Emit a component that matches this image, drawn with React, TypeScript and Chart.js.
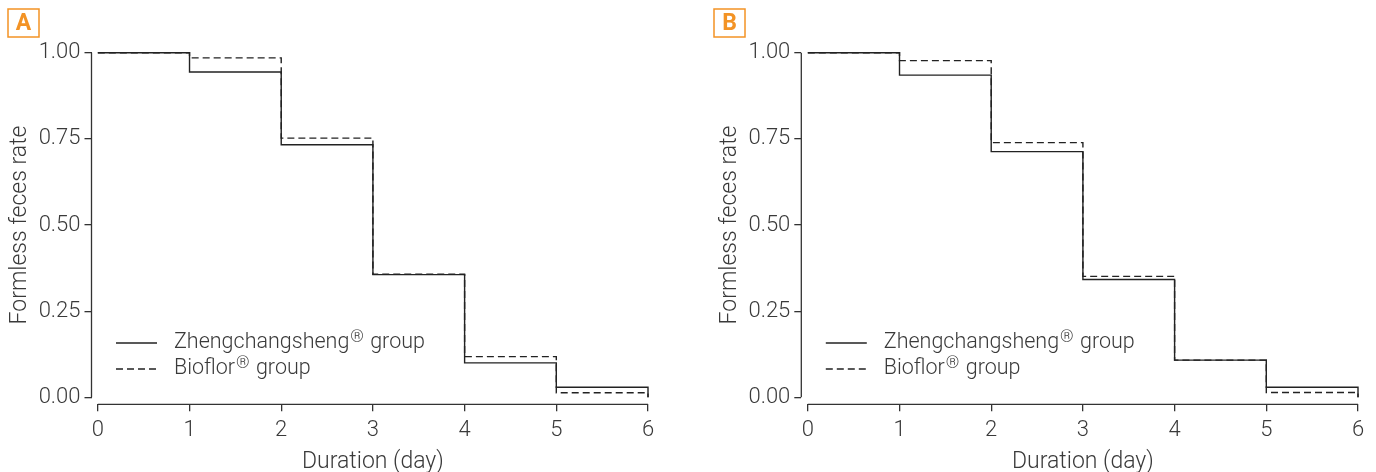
import React, { useEffect, useRef } from "react";
import { Chart, registerables } from "chart.js";

Chart.register(...registerables);

// ---------- data ----------
const days = [0, 1, 2, 3, 4, 5, 6];
const yTicks = [0, 0.25, 0.5, 0.75, 1];
const xTicks = [0, 1, 2, 3, 4, 5, 6];
const zhengA = [1, 0.944, 0.733, 0.356, 0.1, 0.029, 0];
const bioflorA = [1, 0.985, 0.752, 0.357, 0.118, 0.013, 0];
const zhengB = [1, 0.935, 0.713, 0.342, 0.108, 0.029, 0];
const bioflorB = [1, 0.977, 0.739, 0.351, 0.108, 0.014, 0];
const seriesLabels = ["Zhengchangsheng® group", "Bioflor® group"];
const panelLabels = ["A", "B"];
const xTitle = "Duration (day)";
const yTitle = "Formless feces rate";

// ---------- style ----------
const FONT = "Roboto, 'Liberation Sans', sans-serif";
const TEXT = "#3a3a3a";
const LINE = "#222222";
const ORANGE = "#F39325";
const W = 688;
const H = 472;

type PanelGeom = {
  axisX: number; // chart area left (y-axis line)
  rightPad: number;
  xMin: number;
  boxX: number;
};

const geoms: PanelGeom[] = [
  { axisX: 91.5, rightPad: 40, xMin: -0.069, boxX: 8 },
  { axisX: 113.3, rightPad: 18, xMin: -0.071, boxX: 26 },
];

const drawText = (ctx: CanvasRenderingContext2D, label: string, x: number, y: number) => {
  const parts = label.split("®");
  let cx = x;
  parts.forEach((p, i) => {
    ctx.font = `300 21.5px ${FONT}`;
    ctx.fillText(p, cx, y);
    cx += ctx.measureText(p).width;
    if (i < parts.length - 1) {
      ctx.font = `300 17px ${FONT}`;
      ctx.fillText("®", cx + 1, y - 6);
      cx += ctx.measureText("®").width + 2;
    }
  });
};

const customPlugin = {
  id: "custom",
  afterDraw(chart: any, _args: any, opts: any) {
    const ctx: CanvasRenderingContext2D = chart.ctx;
    const xs = chart.scales.x;
    const ys = chart.scales.y;
    const ca = chart.chartArea;
    ctx.save();
    // axis lines
    ctx.strokeStyle = "#333";
    ctx.lineWidth = 1.3;
    ctx.beginPath();
    ctx.moveTo(xs.getPixelForValue(xTicks[0]), ca.bottom);
    ctx.lineTo(xs.getPixelForValue(xTicks[xTicks.length - 1]), ca.bottom);
    ctx.moveTo(ca.left, ys.getPixelForValue(yTicks[0]));
    ctx.lineTo(ca.left, ys.getPixelForValue(yTicks[yTicks.length - 1]));
    ctx.stroke();

    // axis titles
    ctx.fillStyle = TEXT;
    ctx.font = `300 23px ${FONT}`;
    ctx.textAlign = "center";
    ctx.textBaseline = "middle";
    const xc = (xs.getPixelForValue(xTicks[0]) + xs.getPixelForValue(xTicks[xTicks.length - 1])) / 2;
    ctx.fillText(xTitle, xc, 462);
    ctx.save();
    const yc = (ys.getPixelForValue(0) + ys.getPixelForValue(1)) / 2;
    ctx.translate(ca.left - 71, yc);
    ctx.rotate(-Math.PI / 2);
    ctx.fillText(yTitle, 0, 0);
    ctx.restore();

    // legend
    ctx.textAlign = "left";
    ctx.textBaseline = "alphabetic";
    const rows = [343, 369];
    chart.data.datasets.forEach((ds: any, i: number) => {
      ctx.strokeStyle = LINE;
      ctx.lineWidth = 1.4;
      ctx.setLineDash(ds.borderDash || []);
      ctx.beginPath();
      ctx.moveTo(ca.left + 24.5, rows[i]);
      ctx.lineTo(ca.left + 65.5, rows[i]);
      ctx.stroke();
      ctx.setLineDash([]);
      ctx.fillStyle = TEXT;
      drawText(ctx, ds.label, ca.left + 82.5, rows[i] + 5);
    });

    // panel label
    ctx.strokeStyle = ORANGE;
    ctx.lineWidth = 1.5;
    ctx.strokeRect(opts.boxX, 9, 31, 28);
    ctx.fillStyle = ORANGE;
    ctx.font = `bold 23px ${FONT}`;
    ctx.textAlign = "center";
    ctx.textBaseline = "middle";
    ctx.fillText(opts.panel, opts.boxX + 15.5, 24);
    ctx.restore();
  },
};

function Panel({ idx, solid, dashed }: { idx: number; solid: number[]; dashed: number[] }) {
  const ref = useRef<HTMLCanvasElement>(null);
  useEffect(() => {
    const g = geoms[idx];
    const tickFont = { family: FONT, size: 22, weight: "300" as any };
    const chart = new Chart(ref.current as HTMLCanvasElement, {
      type: "line",
      data: {
        datasets: [
          {
            label: seriesLabels[0],
            data: days.map((d, i) => ({ x: d, y: solid[i] })),
            borderColor: LINE,
            borderWidth: 1.4,
            stepped: "before",
            pointRadius: 0,
            fill: false,
            clip: false as any,
          },
          {
            label: seriesLabels[1],
            data: days.map((d, i) => ({ x: d, y: dashed[i] })),
            borderColor: LINE,
            borderWidth: 1.4,
            borderDash: [7, 4],
            stepped: "before",
            pointRadius: 0,
            fill: false,
            clip: false as any,
          },
        ],
      },
      options: {
        responsive: false,
        animation: false,
        layout: { padding: { left: 0, right: g.rightPad, top: 52.7, bottom: 0 } },
        plugins: {
          legend: { display: false },
          tooltip: { enabled: false },
          custom: { boxX: g.boxX, panel: panelLabels[idx] },
        } as any,
        scales: {
          x: {
            type: "linear",
            min: g.xMin,
            max: 6,
            afterBuildTicks: (s: any) => {
              s.ticks = xTicks.map((v) => ({ value: v }));
            },
            afterFit: (s: any) => {
              s.height = H - 404.3;
            },
            grid: { display: true, drawOnChartArea: false, drawTicks: true, tickLength: 7, color: "#333", lineWidth: 1.3 },
            border: { display: false },
            ticks: {
              autoSkip: false,
              maxRotation: 0,
              padding: 6,
              color: TEXT,
              font: tickFont,
              callback: (v: any) => String(v),
            },
          },
          y: {
            type: "linear",
            min: -0.0203,
            max: 1,
            afterBuildTicks: (s: any) => {
              s.ticks = yTicks.map((v) => ({ value: v }));
            },
            afterFit: (s: any) => {
              s.width = g.axisX;
            },
            grid: { display: true, drawOnChartArea: false, drawTicks: true, tickLength: 7, color: "#333", lineWidth: 1.3 },
            border: { display: false },
            ticks: {
              autoSkip: false,
              padding: 4,
              color: TEXT,
              font: tickFont,
              callback: (v: any) => Number(v).toFixed(2),
            },
          },
        },
      },
      plugins: [customPlugin as any],
    });
    return () => chart.destroy();
  }, [idx, solid, dashed]);
  return <canvas ref={ref} width={W} height={H} style={{ width: W, height: H, display: "block" }} />;
}

export default function App() {
  return (
    <div style={{ position: "fixed", left: 0, top: 0, width: 1376, height: 472, background: "#fff", display: "flex" }}>
      <Panel idx={0} solid={zhengA} dashed={bioflorA} />
      <Panel idx={1} solid={zhengB} dashed={bioflorB} />
    </div>
  );
}
